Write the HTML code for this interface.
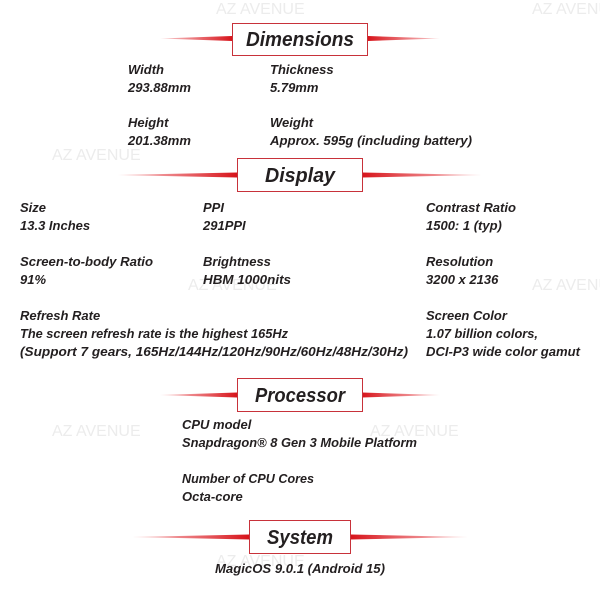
<!DOCTYPE html>
<html><head><meta charset="utf-8"><style>
html,body{margin:0;padding:0;background:#fff;width:600px;height:600px;overflow:hidden}
svg text{font-family:"Liberation Sans",sans-serif;font-style:italic;font-weight:bold;fill:#231f20}
.t{font-size:13px}
.h{font-size:20px}
.w{font-size:16px;font-style:normal;font-weight:normal;fill:#ececec}
</style></head><body>
<svg width="600" height="600" viewBox="0 0 600 600" xmlns="http://www.w3.org/2000/svg">
<defs>
<linearGradient id="gl" x1="0" x2="1"><stop offset="0" stop-color="#e11b22" stop-opacity="0.2"/><stop offset="1" stop-color="#d7141b"/></linearGradient>
<linearGradient id="gr" x1="1" x2="0"><stop offset="0" stop-color="#e11b22" stop-opacity="0.2"/><stop offset="1" stop-color="#d7141b"/></linearGradient>
</defs>
<!-- watermarks -->
<text class="w" x="216" y="14">AZ AVENUE</text>
<text class="w" x="532" y="14">AZ AVENUE</text>
<text class="w" x="52" y="160">AZ AVENUE</text>
<text class="w" x="188" y="290">AZ AVENUE</text>
<text class="w" x="532" y="290">AZ AVENUE</text>
<text class="w" x="52" y="436">AZ AVENUE</text>
<text class="w" x="370" y="436">AZ AVENUE</text>
<text class="w" x="216" y="566">AZ AVENUE</text>

<!-- Dimensions header -->
<polygon points="160,38.5 232,36 232,41" fill="url(#gl)"/>
<polygon points="440,38.5 368,36 368,41" fill="url(#gr)"/>
<rect x="232.5" y="23.5" width="135" height="32" fill="#fff" stroke="#c8323a" stroke-width="1"/>
<text class="h" x="300" y="46" text-anchor="middle" textLength="108" lengthAdjust="spacingAndGlyphs">Dimensions</text>

<text class="t" x="128" y="74">Width</text>
<text class="t" x="128" y="92">293.88mm</text>
<text class="t" x="270" y="74">Thickness</text>
<text class="t" x="270" y="92">5.79mm</text>
<text class="t" x="128" y="127">Height</text>
<text class="t" x="128" y="145">201.38mm</text>
<text class="t" x="270" y="127">Weight</text>
<text class="t" x="270" y="145" textLength="202" lengthAdjust="spacingAndGlyphs">Approx. 595g (including battery)</text>

<!-- Display header -->
<polygon points="118,175 237,172.5 237,177.5" fill="url(#gl)"/>
<polygon points="482,175 362,172.5 362,177.5" fill="url(#gr)"/>
<rect x="237.5" y="158.5" width="125" height="33" fill="#fff" stroke="#c8323a" stroke-width="1"/>
<text class="h" x="300" y="182" text-anchor="middle" textLength="70" lengthAdjust="spacingAndGlyphs">Display</text>

<text class="t" x="20" y="212">Size</text>
<text class="t" x="20" y="230">13.3 Inches</text>
<text class="t" x="20" y="266" textLength="133" lengthAdjust="spacingAndGlyphs">Screen-to-body Ratio</text>
<text class="t" x="20" y="284">91%</text>
<text class="t" x="20" y="320">Refresh Rate</text>
<text class="t" x="20" y="338" textLength="268" lengthAdjust="spacingAndGlyphs">The screen refresh rate is the highest 165Hz</text>
<text class="t" x="20" y="356" textLength="388" lengthAdjust="spacingAndGlyphs">(Support 7 gears, 165Hz/144Hz/120Hz/90Hz/60Hz/48Hz/30Hz)</text>
<text class="t" x="203" y="212">PPI</text>
<text class="t" x="203" y="230">291PPI</text>
<text class="t" x="203" y="266">Brightness</text>
<text class="t" x="203" y="284" textLength="88" lengthAdjust="spacingAndGlyphs">HBM 1000nits</text>
<text class="t" x="426" y="212" textLength="90" lengthAdjust="spacingAndGlyphs">Contrast Ratio</text>
<text class="t" x="426" y="230">1500: 1 (typ)</text>
<text class="t" x="426" y="266">Resolution</text>
<text class="t" x="426" y="284">3200 x 2136</text>
<text class="t" x="426" y="320">Screen Color</text>
<text class="t" x="426" y="338" textLength="112" lengthAdjust="spacingAndGlyphs">1.07 billion colors,</text>
<text class="t" x="426" y="356" textLength="154" lengthAdjust="spacingAndGlyphs">DCI-P3 wide color gamut</text>

<!-- Processor header -->
<polygon points="160,395 237,392.5 237,397.5" fill="url(#gl)"/>
<polygon points="440,395 362,392.5 362,397.5" fill="url(#gr)"/>
<rect x="237.5" y="378.5" width="125" height="33" fill="#fff" stroke="#c8323a" stroke-width="1"/>
<text class="h" x="300" y="402" text-anchor="middle" textLength="90" lengthAdjust="spacingAndGlyphs">Processor</text>

<text class="t" x="182" y="429">CPU model</text>
<text class="t" x="182" y="447" textLength="235" lengthAdjust="spacingAndGlyphs">Snapdragon® 8 Gen 3 Mobile Platform</text>
<text class="t" x="182" y="483" textLength="132" lengthAdjust="spacingAndGlyphs">Number of CPU Cores</text>
<text class="t" x="182" y="501">Octa-core</text>

<!-- System header -->
<polygon points="132,537 249,534.5 249,539.5" fill="url(#gl)"/>
<polygon points="468,537 351,534.5 351,539.5" fill="url(#gr)"/>
<rect x="249.5" y="520.5" width="101" height="33" fill="#fff" stroke="#c8323a" stroke-width="1"/>
<text class="h" x="300" y="544" text-anchor="middle" textLength="66" lengthAdjust="spacingAndGlyphs">System</text>

<text class="t" x="300" y="573" text-anchor="middle" textLength="170" lengthAdjust="spacingAndGlyphs">MagicOS 9.0.1 (Android 15)</text>
</svg>
</body></html>
